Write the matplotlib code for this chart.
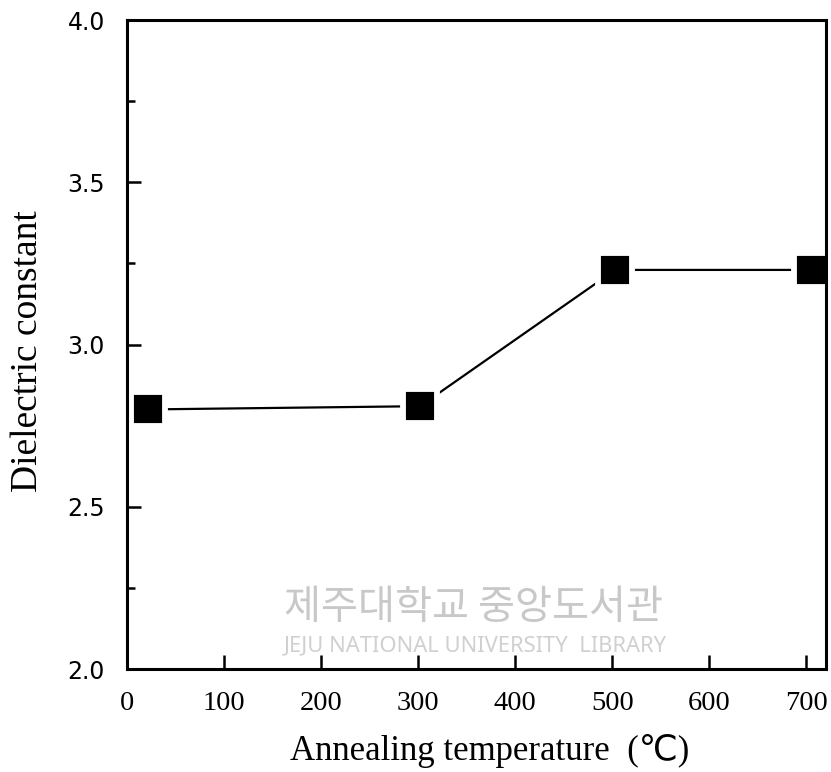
import matplotlib
matplotlib.use("Agg")
import matplotlib.pyplot as plt
from matplotlib.ticker import MultipleLocator

temperature = [22, 302, 503, 705]
dielectric = [2.80, 2.81, 3.23, 3.23]
x_ticks = [0, 100, 200, 300, 400, 500, 600, 700]
y_ticks = [2.0, 2.5, 3.0, 3.5, 4.0]

plt.rcParams["font.family"] = ["Liberation Serif", "DejaVu Sans", "Noto Sans CJK KR"]

fig = plt.figure(figsize=(8.31, 7.72), dpi=100)
ax = fig.add_axes([0.1528, 0.1334, 0.841, 0.8406])

ax.plot(temperature, dielectric, color="black", lw=1.6, marker="s",
        markersize=24, markerfacecolor="black", markeredgecolor="white",
        markeredgewidth=4.2)

ax.set_xlim(0, 720)
ax.set_ylim(2.0, 4.0)
ax.set_xticks(x_ticks)
ax.set_yticks(y_ticks)
ax.yaxis.set_minor_locator(MultipleLocator(0.25))
ax.set_xticklabels([str(v) for v in x_ticks])
ax.set_yticklabels([f"{v:.1f}" for v in y_ticks])

ax.tick_params(which="both", direction="in", top=False, right=False, width=1.8)
ax.tick_params(which="major", length=10)
ax.tick_params(axis="y", which="major", pad=16, labelsize=17,
               labelfontfamily="DejaVu Sans")
ax.tick_params(axis="x", which="major", pad=16, labelsize=20.5)
ax.tick_params(which="minor", length=5.5)
for s in ax.spines.values():
    s.set_linewidth(2.2)

ax.set_xlabel("Annealing temperature  (℃)", fontsize=25)
ax.set_ylabel("Dielectric constant", fontsize=27)
ax.xaxis.label.set_horizontalalignment("left")
ax.xaxis.set_label_coords(0.233, -0.1)
ax.yaxis.set_label_coords(-0.117, 0.49)

# library watermark
ax.text(0.225, 0.095, "제주대학교 중앙도서관", transform=ax.transAxes,
        family=["Noto Sans CJK KR"], fontsize=29, color="#c8c8c8", va="center")
ax.text(0.225, 0.035, "JEJU NATIONAL UNIVERSITY  LIBRARY", transform=ax.transAxes,
        family=["Noto Sans", "DejaVu Sans"], fontsize=15.8, color="#d0d0d0", va="center")

fig.savefig("out.png", dpi=100)
